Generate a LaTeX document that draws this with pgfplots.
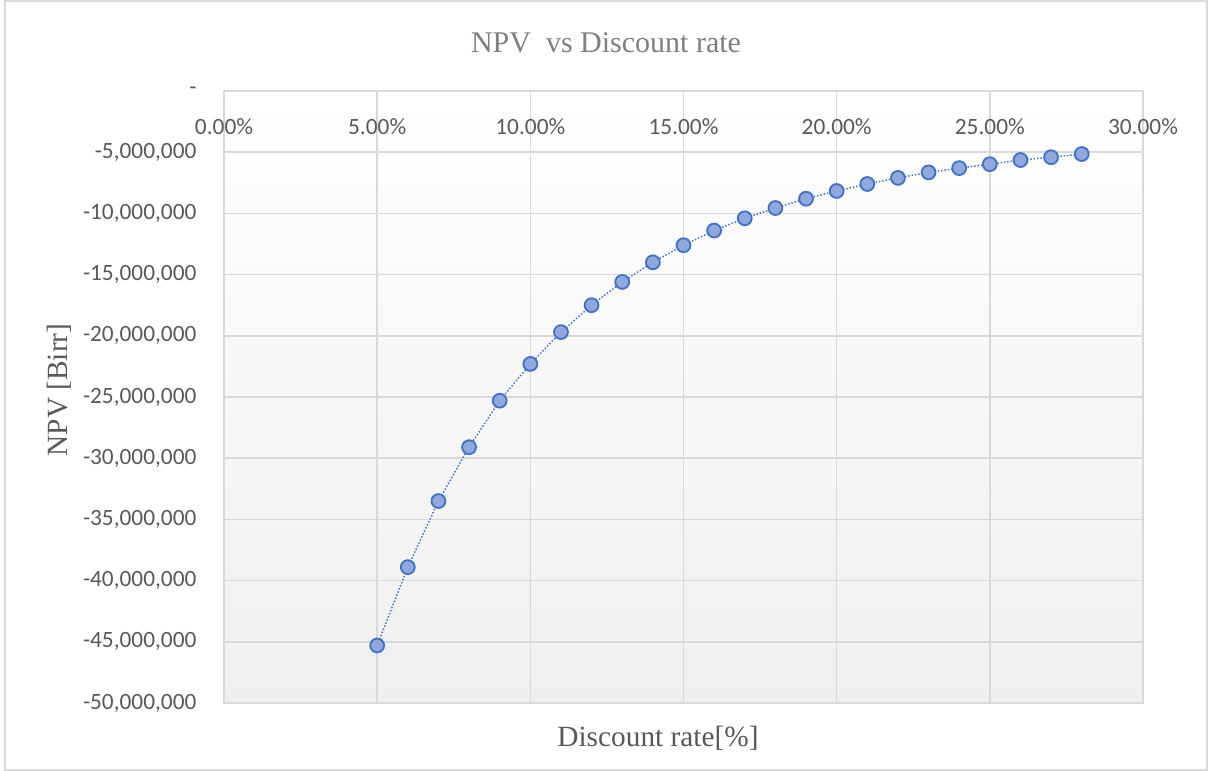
\documentclass[border=0pt]{standalone}
\usepackage{pgfplots}
\pgfplotsset{compat=1.18}
\usepackage{fontspec}
\setmainfont{Liberation Serif}
\newfontfamily\tickfont{Carlito}

\definecolor{gridgray}{HTML}{D9D9D9}
\definecolor{ticktext}{HTML}{595959}
\definecolor{titletext}{HTML}{7F7F7F}
\definecolor{labeltext}{HTML}{595959}
\definecolor{serieline}{HTML}{4472C4}
\definecolor{seriefill}{HTML}{91A8DC}
\definecolor{plotbottom}{HTML}{EFEFEF}

\begin{document}
\begin{tikzpicture}
\useasboundingbox (0,0) rectangle (906pt,578.25pt);
\fill[white] (0,0) rectangle (906pt,578.25pt);
\draw[gridgray, line width=1.2pt] (3.75pt,0.75pt) rectangle (905.25pt,577.5pt);

\begin{axis}[
  at={(168pt,51pt)}, anchor=south west,
  scale only axis,
  width=689.25pt, height=459pt,
  xmin=0, xmax=30, ymin=-50, ymax=0,
  axis background/.style={top color=white, bottom color=plotbottom},
  axis line style={draw=gridgray, line width=1.1pt},
  grid=major,
  major grid style={draw=gridgray, line width=1.1pt},
  major tick length=0pt,
  xtick={0,5,10,15,20,25,30},
  xticklabels={0.00\%,5.00\%,10.00\%,15.00\%,20.00\%,25.00\%,30.00\%},
  xticklabel pos=top,
  xticklabel style={anchor=center, yshift=-26.5pt, inner sep=0pt},
  ytick={-50,-45,-40,-35,-30,-25,-20,-15,-10,-5,0},
  yticklabels={{-50,000,000},{-45,000,000},{-40,000,000},{-35,000,000},{-30,000,000},{-25,000,000},{-20,000,000},{-15,000,000},{-10,000,000},{-5,000,000},{-\hspace{7.5pt}}},
  yticklabel style={anchor=east, xshift=-20.5pt, inner sep=0pt},
  ticklabel style={font=\tickfont\fontsize{17.5}{20}\selectfont, text=ticktext},
  clip=false,
]
\addplot[
  color=serieline, line width=1.1pt, dash pattern=on 1.1pt off 1.4pt,
  mark=*, mark size=5.2pt,
  mark options={solid, draw=serieline, fill=seriefill, line width=1.4pt},
] coordinates {
  (5,-45.3) (6,-38.9) (7,-33.5) (8,-29.1) (9,-25.3) (10,-22.3)
  (11,-19.7) (12,-17.5) (13,-15.6) (14,-14.0) (15,-12.6) (16,-11.4)
  (17,-10.4) (18,-9.56) (19,-8.8) (20,-8.17) (21,-7.6) (22,-7.1)
  (23,-6.65) (24,-6.3) (25,-5.98) (26,-5.64) (27,-5.41) (28,-5.15)
};
\end{axis}

% title and axis titles
\node[text=titletext, font=\fontsize{22.5}{26}\selectfont] at (454.5pt,546pt) {NPV\ \ vs Discount rate};
\node[text=labeltext, font=\fontsize{22}{26}\selectfont] at (493.5pt,24.75pt) {Discount rate[\%]};
\node[text=labeltext, font=\fontsize{22}{26}\selectfont, rotate=90] at (44.25pt,285.75pt) {NPV [Birr]};
\end{tikzpicture}
\end{document}
